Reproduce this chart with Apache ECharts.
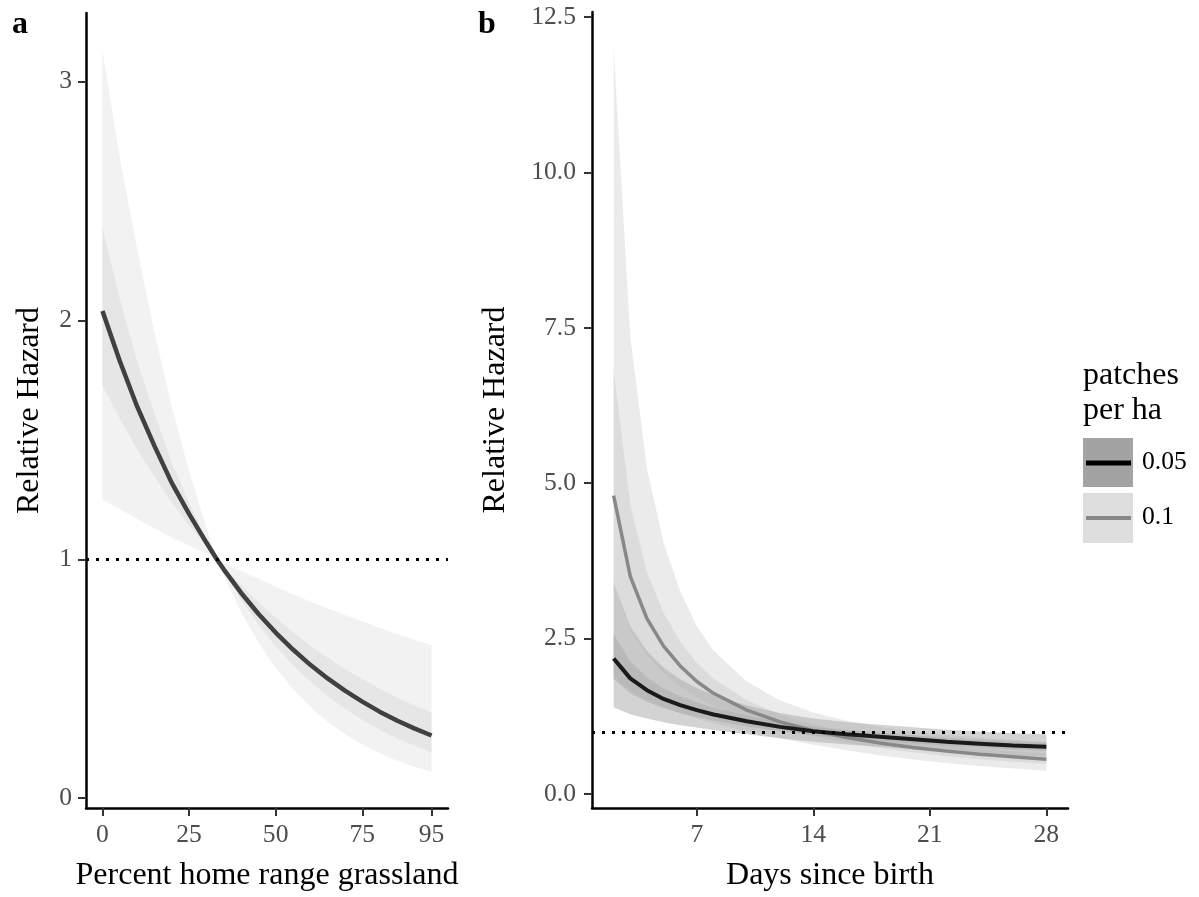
<!DOCTYPE html>
<html>
<head>
<meta charset="utf-8">
<title>Relative hazard</title>
<script src="https://cdn.jsdelivr.net/npm/echarts@6/dist/echarts.min.js"></script>
<style>
  html, body { margin: 0; padding: 0; background: #fff; }
  #main { width: 1199px; height: 897px; }
</style>
</head>
<body>
<div id="main"></div>
<script>
// panel a: percent home range grassland
const pctGrass = [0, 5, 10, 15, 20, 25, 30, 33, 35, 40, 45, 50, 55, 60, 65, 70, 75, 80, 85, 90, 95];
const hazardA = [2.04, 1.83, 1.64, 1.475, 1.32, 1.19, 1.07, 1.0, 0.958, 0.86, 0.772, 0.693, 0.622, 0.558, 0.501, 0.45, 0.404, 0.362, 0.325, 0.292, 0.262];
const outerUpA = [3.13, 2.68, 2.30, 1.95, 1.64, 1.37, 1.13, 1.0, 0.986, 0.951, 0.918, 0.885, 0.854, 0.823, 0.794, 0.767, 0.74, 0.712, 0.687, 0.663, 0.64];
const outerLoA = [1.25, 1.21, 1.17, 1.13, 1.09, 1.058, 1.024, 1.0, 0.931, 0.78, 0.652, 0.546, 0.457, 0.382, 0.32, 0.268, 0.224, 0.188, 0.157, 0.131, 0.11];
const innerUpA = [2.39, 2.09, 1.83, 1.61, 1.405, 1.236, 1.085, 1.0, 0.968, 0.891, 0.82, 0.755, 0.694, 0.639, 0.588, 0.541, 0.499, 0.458, 0.422, 0.388, 0.357];
const innerLoA = [1.73, 1.59, 1.46, 1.348, 1.237, 1.144, 1.054, 1.0, 0.948, 0.831, 0.727, 0.636, 0.557, 0.488, 0.427, 0.374, 0.328, 0.286, 0.251, 0.22, 0.192];
const ticksXA = [0, 25, 50, 75, 95];
const ticksYA = [0, 1, 2, 3];

// panel b: days since birth, two patch densities
const days = [2, 3, 4, 5, 6, 7, 8, 10, 12, 14, 16, 18, 20, 22, 24, 26, 28];
const hazard005 = [2.18, 1.86, 1.67, 1.53, 1.43, 1.35, 1.28, 1.17, 1.08, 1.01, 0.96, 0.92, 0.88, 0.84, 0.81, 0.78, 0.76];
const outerUp005 = [3.40, 2.69, 2.30, 2.03, 1.846, 1.706, 1.592, 1.425, 1.302, 1.215, 1.157, 1.114, 1.074, 1.033, 1.005, 0.977, 0.960];
const outerLo005 = [1.397, 1.285, 1.213, 1.153, 1.108, 1.068, 1.029, 0.961, 0.896, 0.840, 0.797, 0.760, 0.721, 0.683, 0.653, 0.623, 0.601];
const innerUp005 = [2.57, 2.133, 1.880, 1.699, 1.572, 1.472, 1.388, 1.259, 1.158, 1.081, 1.029, 0.988, 0.947, 0.907, 0.877, 0.848, 0.829];
const innerLo005 = [1.849, 1.622, 1.484, 1.378, 1.301, 1.238, 1.181, 1.088, 1.008, 0.943, 0.896, 0.857, 0.818, 0.778, 0.748, 0.718, 0.697];
const hazard01 = [4.80, 3.50, 2.82, 2.38, 2.06, 1.81, 1.62, 1.35, 1.16, 1.02, 0.91, 0.82, 0.75, 0.69, 0.64, 0.60, 0.56];
const outerUp01 = [12.0, 7.35, 5.24, 4.04, 3.26, 2.70, 2.31, 1.81, 1.504, 1.31, 1.177, 1.079, 1.010, 0.953, 0.908, 0.874, 0.836];
const outerLo01 = [1.92, 1.667, 1.517, 1.402, 1.303, 1.212, 1.135, 1.007, 0.895, 0.794, 0.704, 0.623, 0.557, 0.499, 0.451, 0.412, 0.375];
const innerUp01 = [6.80, 4.64, 3.57, 2.91, 2.45, 2.11, 1.855, 1.509, 1.280, 1.122, 1.003, 0.910, 0.840, 0.780, 0.731, 0.692, 0.652];
const innerLo01 = [3.39, 2.64, 2.23, 1.946, 1.731, 1.554, 1.415, 1.208, 1.051, 0.928, 0.825, 0.739, 0.670, 0.610, 0.560, 0.520, 0.481];
const ticksXB = [7, 14, 21, 28];
const ticksYB = [0, 2.5, 5, 7.5, 10, 12.5];
const groups = ['0.05', '0.1'];

const SERIF = 'Liberation Serif, Times New Roman, serif';

var chartDom = document.getElementById('main');
var chart = echarts.init(chartDom);

// confidence ribbon as one polygon, placed through the axes
function ribbon(xs, lo, hi, fill, idx) {
    return {
        type: 'custom', xAxisIndex: idx, yAxisIndex: idx, silent: true, z: 1,
        data: xs.map((x, i) => [x, lo[i], hi[i]]),
        encode: { x: 0, y: [1, 2] },
        renderItem: function (params, api) {
            if (params.dataIndex !== 0) return;
            const top = xs.map((x, i) => api.coord([x, hi[i]]));
            const bottom = xs.map((x, i) => api.coord([x, lo[i]])).reverse();
            return {
                type: 'polygon',
                shape: { points: top.concat(bottom) },
                style: { fill: fill }
            };
        }
    };
}

function refLine() {
    return {
        silent: true,
        symbol: 'none',
        label: { show: false },
        lineStyle: { color: '#000', type: [3, 7], width: 3 },
        data: [{ yAxis: 1 }]
    };
}

function valueAxis(opts) {
    return Object.assign({
        type: 'value',
        nameLocation: 'middle',
        nameTextStyle: { fontFamily: SERIF, fontSize: 32, color: '#000' },
        splitLine: { show: false },
        axisLine: { show: true, onZero: false, lineStyle: { color: '#000', width: 2.5 } }
    }, opts);
}

function ticks(vals) {
    return { show: true, length: 8, customValues: vals, lineStyle: { color: '#333', width: 2 } };
}

var option = {
    animation: false,
    backgroundColor: '#fff',
    grid: [
        { left: 86, top: 13, width: 362, height: 799 },
        { left: 592, top: 12, width: 476, height: 797 }
    ],
    xAxis: [
        valueAxis({
            gridIndex: 0, min: -4.75, max: 99.75,
            name: 'Percent home range grassland', nameGap: 52,
            axisTick: ticks(ticksXA),
            axisLabel: { fontFamily: SERIF, fontSize: 25.6, color: '#4D4D4D', margin: 14, customValues: ticksXA }
        }),
        valueAxis({
            gridIndex: 1, min: 0.7, max: 29.3,
            name: 'Days since birth', nameGap: 52,
            axisTick: ticks(ticksXB),
            axisLabel: { fontFamily: SERIF, fontSize: 25.6, color: '#4D4D4D', margin: 14, customValues: ticksXB }
        })
    ],
    yAxis: [
        valueAxis({
            gridIndex: 0, min: -0.0415, max: 3.2875,
            name: 'Relative Hazard', nameGap: 40,
            axisTick: ticks(ticksYA),
            axisLabel: { fontFamily: SERIF, fontSize: 25.6, color: '#4D4D4D', margin: 14, customValues: ticksYA }
        }),
        valueAxis({
            gridIndex: 1, min: -0.225, max: 12.58,
            name: 'Relative Hazard', nameGap: 80,
            axisTick: ticks(ticksYB),
            axisLabel: {
                fontFamily: SERIF, fontSize: 25.6, color: '#4D4D4D', margin: 16, customValues: ticksYB,
                formatter: (v) => Number(v).toFixed(1)
            }
        })
    ],
    series: [
        // panel a
        ribbon(pctGrass, outerLoA, outerUpA, '#F2F2F2', 0),
        ribbon(pctGrass, innerLoA, innerUpA, '#E6E6E6', 0),
        {
            type: 'line', xAxisIndex: 0, yAxisIndex: 0, symbol: 'none', z: 3,
            lineStyle: { color: '#404040', width: 4.5 },
            data: pctGrass.map((x, i) => [x, hazardA[i]]),
            markLine: refLine()
        },
        // panel b, 0.1 ribbons then 0.05 ribbons
        ribbon(days, outerLo01, outerUp01, 'rgba(175,175,175,0.25)', 1),
        ribbon(days, innerLo01, innerUp01, 'rgba(175,175,175,0.25)', 1),
        ribbon(days, outerLo005, outerUp005, 'rgba(170,170,170,0.52)', 1),
        ribbon(days, innerLo005, innerUp005, 'rgba(170,170,170,0.52)', 1),
        {
            name: groups[1], type: 'line', xAxisIndex: 1, yAxisIndex: 1, symbol: 'none', z: 3,
            lineStyle: { color: '#888888', width: 3.5 },
            data: days.map((d, i) => [d, hazard01[i]])
        },
        {
            name: groups[0], type: 'line', xAxisIndex: 1, yAxisIndex: 1, symbol: 'none', z: 4,
            lineStyle: { color: '#1a1a1a', width: 4 },
            data: days.map((d, i) => [d, hazard005[i]]),
            markLine: refLine()
        }
    ],
    graphic: [
        { type: 'text', left: 12, top: 9, style: { text: 'a', font: 'bold 32px ' + SERIF, fill: '#000' } },
        { type: 'text', left: 478, top: 9, style: { text: 'b', font: 'bold 32px ' + SERIF, fill: '#000' } },
        // legend
        { type: 'text', x: 1083, y: 376, style: { text: 'patches', font: '32px ' + SERIF, fill: '#000', verticalAlign: 'middle' } },
        { type: 'text', x: 1083, y: 411, style: { text: 'per ha', font: '32px ' + SERIF, fill: '#000', verticalAlign: 'middle' } },
        { type: 'rect', shape: { x: 1083, y: 438, width: 50, height: 49 }, style: { fill: '#A3A3A3' } },
        { type: 'line', shape: { x1: 1086, y1: 463, x2: 1131, y2: 463 }, style: { stroke: '#000', lineWidth: 5 } },
        { type: 'text', x: 1142, y: 462, style: { text: groups[0], font: '25.6px ' + SERIF, fill: '#000', verticalAlign: 'middle' } },
        { type: 'rect', shape: { x: 1083, y: 493, width: 50, height: 50 }, style: { fill: '#DDDDDD' } },
        { type: 'line', shape: { x1: 1086, y1: 518, x2: 1131, y2: 518 }, style: { stroke: '#888888', lineWidth: 4 } },
        { type: 'text', x: 1142, y: 517, style: { text: groups[1], font: '25.6px ' + SERIF, fill: '#000', verticalAlign: 'middle' } }
    ]
};

option && chart.setOption(option);
</script>
</body>
</html>
